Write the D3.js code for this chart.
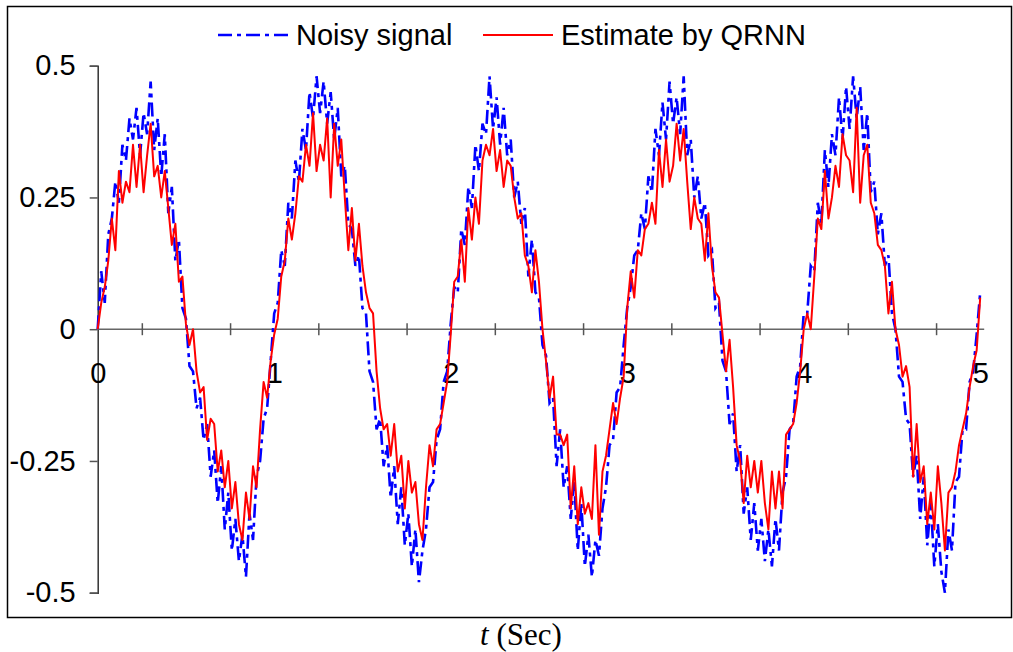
<!DOCTYPE html>
<meta charset="utf-8">
<style>
    body { margin: 0; background: #fff; }
    .axis text { font-family: "Liberation Sans", Arial, sans-serif; font-size: 29px; fill: #000; }
    .legend text { font-family: "Liberation Sans", Arial, sans-serif; font-size: 29px; fill: #000; }
    .xtitle { font-family: "Liberation Serif", "Times New Roman", serif; font-size: 31px; }
</style>
<svg width="1013" height="652"></svg>
<script src="https://d3js.org/d3.v7.min.js"></script>
<script>

    // sampling step of both series (sec)
    var step = 0.02;

    // noisy signal, t = 0 .. 5 s
    var noisy = [
        0.00,0.11,0.05,0.18,0.21,0.28,0.24,0.35,0.32,0.40, 0.36,0.42,0.33,0.41,0.37,0.47,0.34,0.40,0.29,0.37,
        0.22,0.27,0.13,0.17,0.04,0.02,-0.07,-0.08,-0.15,-0.13, -0.21,-0.18,-0.28,-0.23,-0.33,-0.26,-0.38,-0.31,-0.42,-0.36,
        -0.44,-0.39,-0.47,-0.35,-0.40,-0.28,-0.25,-0.17,-0.15,-0.06,
        0.03,0.05,0.15,0.12,0.24,0.21,0.32,0.28,0.38,0.34, 0.45,0.40,0.48,0.41,0.47,0.39,0.45,0.36,0.42,0.29,
        0.31,0.20,0.19,0.12,0.14,0.04,0.03,-0.08,-0.10,-0.19, -0.17,-0.26,-0.22,-0.32,-0.26,-0.37,-0.30,-0.41,-0.35,-0.45,
        -0.38,-0.48,-0.42,-0.38,-0.30,-0.29,-0.21,-0.19,-0.10,-0.08,
        0.01,0.08,0.07,0.19,0.16,0.27,0.23,0.35,0.30,0.39, 0.37,0.48,0.38,0.44,0.35,0.42,0.33,0.36,0.25,0.28,
        0.20,0.23,0.10,0.17,0.07,0.06,-0.03,-0.05,-0.14,-0.13, -0.26,-0.19,-0.30,-0.26,-0.36,-0.29,-0.42,-0.33,-0.45,-0.39,
        -0.47,-0.40,-0.43,-0.34,-0.30,-0.22,-0.21,-0.12,-0.11,-0.03,
        0.04,0.08,0.14,0.15,0.22,0.19,0.29,0.26,0.38,0.33, 0.43,0.36,0.47,0.39,0.44,0.37,0.48,0.33,0.36,0.25,
        0.29,0.21,0.24,0.14,0.15,0.04,0.05,-0.06,-0.08,-0.18, -0.16,-0.27,-0.22,-0.35,-0.30,-0.40,-0.33,-0.42,-0.36,-0.44,
        -0.38,-0.45,-0.36,-0.42,-0.31,-0.28,-0.19,-0.18,-0.09,-0.07,
        0.03,0.03,0.12,0.11,0.24,0.20,0.34,0.27,0.37,0.33, 0.44,0.36,0.46,0.38,0.48,0.40,0.46,0.34,0.41,0.26,
        0.28,0.18,0.22,0.12,0.14,0.03,0.00,-0.09,-0.10,-0.17, -0.18,-0.28,-0.24,-0.36,-0.28,-0.41,-0.33,-0.45,-0.37,-0.46,
        -0.50,-0.38,-0.42,-0.29,-0.28,-0.19,-0.19,-0.10,-0.08,-0.01,
        0.07
    ];

    // QRNN estimate, same time grid
    var estimate = [
        0.00,0.05,0.08,0.13,0.21,0.15,0.30,0.24,0.28,0.26, 0.35,0.27,0.35,0.26,0.33,0.39,0.29,0.31,0.25,0.30,
        0.23,0.16,0.20,0.09,0.10,0.01,-0.03,0.00,-0.08,-0.12, -0.11,-0.21,-0.17,-0.18,-0.27,-0.23,-0.30,-0.25,-0.34,-0.29,
        -0.37,-0.40,-0.31,-0.36,-0.26,-0.30,-0.19,-0.10,-0.13,-0.06,
        -0.01,0.02,0.10,0.13,0.21,0.17,0.22,0.29,0.28,0.35, 0.31,0.41,0.30,0.35,0.32,0.40,0.25,0.39,0.31,0.36,
        0.25,0.15,0.23,0.13,0.20,0.12,0.07,0.04,0.03,-0.08, -0.15,-0.19,-0.18,-0.24,-0.18,-0.27,-0.24,-0.34,-0.25,-0.31,
        -0.29,-0.37,-0.40,-0.30,-0.22,-0.26,-0.19,-0.18,-0.14,-0.10,
        -0.01,0.09,0.10,0.17,0.09,0.23,0.17,0.25,0.20,0.32, 0.35,0.33,0.38,0.30,0.34,0.27,0.32,0.31,0.25,0.21,
        0.22,0.14,0.12,0.07,0.15,0.09,0.00,-0.06,-0.13,-0.09, -0.20,-0.20,-0.22,-0.20,-0.34,-0.26,-0.37,-0.30,-0.35,-0.33,
        -0.36,-0.22,-0.39,-0.27,-0.24,-0.19,-0.14,-0.18,-0.13,-0.09,
        0.04,0.11,0.06,0.15,0.14,0.19,0.20,0.24,0.20,0.34, 0.27,0.36,0.28,0.31,0.39,0.32,0.38,0.28,0.19,0.25,
        0.21,0.20,0.13,0.22,0.12,0.07,0.06,-0.01,-0.08,-0.02, -0.11,-0.22,-0.25,-0.33,-0.24,-0.30,-0.25,-0.31,-0.25,-0.33,
        -0.38,-0.27,-0.34,-0.27,-0.34,-0.20,-0.19,-0.18,-0.14,-0.08,
        0.00,0.03,0.00,0.10,0.21,0.19,0.30,0.21,0.25,0.31, 0.27,0.37,0.33,0.32,0.26,0.42,0.24,0.33,0.35,0.24,
        0.22,0.16,0.15,0.12,0.03,0.09,0.00,-0.03,-0.09,-0.07, -0.11,-0.28,-0.18,-0.29,-0.26,-0.37,-0.31,-0.38,-0.26,-0.33,
        -0.42,-0.31,-0.30,-0.27,-0.22,-0.19,-0.16,-0.11,-0.07,-0.04,
        0.06
    ];

    var yTicks = [-0.5, -0.25, 0, 0.25, 0.5];
    var yTickLabels = ["-0.5", "-0.25", "0", "0.25", "0.5"];
    var xLabels = [0, 1, 2, 3, 4, 5];
    var xMarks = [0.25, 0.75, 1.25, 1.75, 2.25, 2.75, 3.25, 3.75, 4.25, 4.75];
    var seriesNames = ["Noisy signal", "Estimate by QRNN"];

    var svg = d3.select("svg");

    var x = d3.scaleLinear().domain([0, 5]).range([97.7, 980.2]);
    var y = d3.scaleLinear().domain([-0.5, 0.5]).range([592.7, 65.7]);

    // outer frame
    svg.append("rect")
        .attr("x", 7.5).attr("y", 6.5)
        .attr("width", 1004).attr("height", 611)
        .attr("fill", "none")
        .attr("stroke", "#000")
        .attr("stroke-width", 1.5);

    // y axis
    var yAxis = svg.append("g")
        .attr("class", "axis")
        .attr("transform", "translate(" + x(0) + ",0)")
        .call(d3.axisLeft(y)
            .tickValues(yTicks)
            .tickSize(8)
            .tickPadding(14)
            .tickFormat(function (d, i) { return yTickLabels[i]; }));
    yAxis.select(".domain").attr("stroke", "#333").attr("stroke-width", 1.5);
    yAxis.selectAll(".tick line").attr("stroke", "#555").attr("stroke-width", 1.5);

    // x axis line with crossing tick marks
    var xAxis = svg.append("g")
        .attr("class", "axis")
        .attr("transform", "translate(0," + y(0) + ")")
        .call(d3.axisBottom(x)
            .tickValues(xMarks)
            .tickSize(6)
            .tickSizeOuter(0)
            .tickFormat(""));
    xAxis.select(".domain").attr("stroke", "#666").attr("stroke-width", 1.5)
        .attr("d", "M" + x(0) + ",0H" + (x(5) + 4));
    xAxis.selectAll(".tick line").attr("y1", -6).attr("y2", 6)
        .attr("stroke", "#555").attr("stroke-width", 1.5);

    // x labels under the zero line
    var xLab = svg.append("g")
        .attr("class", "axis")
        .attr("transform", "translate(0," + y(0) + ")")
        .call(d3.axisBottom(x)
            .tickValues(xLabels)
            .tickSize(0)
            .tickPadding(33)
            .tickFormat(d3.format("d")));
    xLab.select(".domain").remove();

    var line = d3.line()
        .x(function (d, i) { return x(i * step); })
        .y(function (d) { return y(d); });

    svg.append("path")
        .datum(noisy)
        .attr("fill", "none")
        .attr("stroke", "#0000ff")
        .attr("stroke-width", 2.6)
        .attr("stroke-dasharray", "14,5,4,5")
        .attr("d", line);

    svg.append("path")
        .datum(estimate)
        .attr("fill", "none")
        .attr("stroke", "#ff0000")
        .attr("stroke-width", 2)
        .attr("stroke-linejoin", "round")
        .attr("d", line);

    // legend
    var legend = svg.append("g").attr("class", "legend");
    var legendX = [218, 483];
    legend.append("line")
        .attr("x1", legendX[0]).attr("x2", legendX[0] + 70)
        .attr("y1", 35).attr("y2", 35)
        .attr("stroke", "#0000ff").attr("stroke-width", 2.6)
        .attr("stroke-dasharray", "14,5,4,5");
    legend.append("line")
        .attr("x1", legendX[1]).attr("x2", legendX[1] + 70)
        .attr("y1", 35).attr("y2", 35)
        .attr("stroke", "#ff0000").attr("stroke-width", 2);
    legend.selectAll("text")
        .data(seriesNames)
        .enter().append("text")
        .attr("x", function (d, i) { return legendX[i] + 78; })
        .attr("y", 45)
        .text(function (d) { return d; });

    // x title
    var title = svg.append("text")
        .attr("class", "xtitle")
        .attr("x", 521)
        .attr("y", 645)
        .attr("text-anchor", "middle");
    title.append("tspan").attr("font-style", "italic").text("t");
    title.append("tspan").text("  (Sec)");

</script>
